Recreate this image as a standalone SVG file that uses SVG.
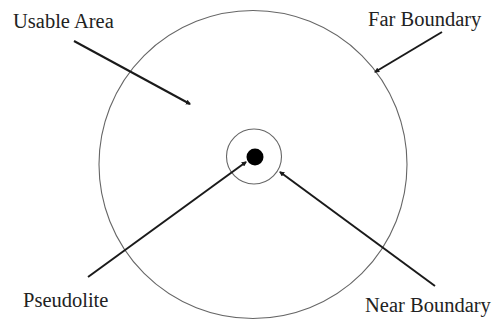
<svg xmlns="http://www.w3.org/2000/svg" width="493" height="321" viewBox="0 0 493 321">
<style>
.lbl{font-family:"Liberation Serif","Times New Roman",serif;font-size:20.5px;fill:#222}
.ring{fill:none;stroke:#666;stroke-width:1.1}
.conn{stroke:#1a1a1a;stroke-width:2;fill:none;marker-end:url(#ah)}
</style>
<defs>
<marker id="ah" viewBox="0 0 10 10" refX="8" refY="5" markerWidth="2.6" markerHeight="2.6" orient="auto" markerUnits="strokeWidth">
<path d="M0,0 L10,5 L0,10 z" fill="#1a1a1a"/>
</marker>
</defs>
<rect width="493" height="321" fill="#fff"/>
<g id="far-boundary-circle"><circle class="ring" cx="253" cy="164.5" r="154"/></g>
<g id="near-boundary-circle"><circle class="ring" cx="254" cy="156.5" r="27.5"/></g>
<g id="pseudolite-dot"><circle cx="255" cy="157" r="8.5" fill="#000"/></g>
<g id="label-usable-area"><text class="lbl" x="13" y="28">Usable Area</text></g>
<g id="label-far-boundary"><text class="lbl" x="368" y="26">Far Boundary</text></g>
<g id="label-pseudolite"><text class="lbl" x="23" y="307">Pseudolite</text></g>
<g id="label-near-boundary"><text class="lbl" x="365" y="312">Near Boundary</text></g>
<g id="connectors">
<line class="conn" x1="74" y1="41" x2="190" y2="104"/>
<line class="conn" x1="442" y1="32" x2="375" y2="72"/>
<line class="conn" x1="88" y1="277" x2="246" y2="162"/>
<line class="conn" x1="435" y1="286" x2="280" y2="172"/>
</g>
</svg>
